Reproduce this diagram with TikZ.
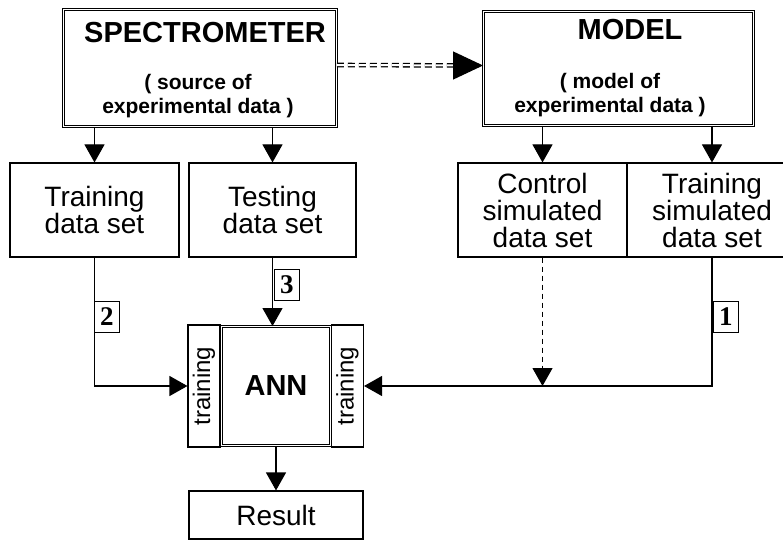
\documentclass[tikz,border=0pt]{standalone}
\usepackage{fontspec}
\setmainfont{Liberation Sans}
\newfontfamily\numfont{Liberation Serif}
\usetikzlibrary{positioning, arrows.meta}

\begin{document}
\begin{tikzpicture}[x=1pt, y=-1pt, line width=1.1pt,
      box/.style={draw, minimum width=169pt, minimum height=94pt, inner sep=0pt, align=center, font=\fontsize{28}{27}\selectfont},
      dbox/.style={draw, double, double distance=1.8pt, line width=0.9pt, inner sep=0pt},
      side/.style={draw, minimum width=32pt, minimum height=122pt, inner sep=0pt},
      numbox/.style={draw, line width=0.8pt, minimum width=25pt, minimum height=31pt, inner sep=0pt, font=\numfont\bfseries\fontsize{27}{27}\selectfont},
      ttl/.style={font=\bfseries\fontsize{29}{29}\selectfont},
      sub/.style={font=\bfseries\fontsize{21}{24}\selectfont, align=center},
      rot/.style={rotate=90, font=\fontsize{24}{24}\selectfont},
      arr/.style={-{Triangle[length=18pt, width=20pt]}}]
      \useasboundingbox (0,0) rectangle (783,540);
      % source and model
      \node[dbox, minimum width=273pt, minimum height=117pt] (spec) at (200,68) {};
      \node[ttl] (spect) at (205,33) {SPECTROMETER};
      \node[sub] (specs) at (198,96) {( source of\\experimental data )};
      \node[dbox, minimum width=270pt, minimum height=114pt] (model) at (618.5,68.5) {};
      \node[ttl] (modelt) at (630,30) {MODEL};
      \node[sub] (models) at (610,95) {( model of\\experimental data )};
      \draw[dash pattern=on 7pt off 4pt, double, double distance=2pt, line width=1.3pt, shorten >=28pt] ([yshift=3pt]spec.east) -- ([yshift=3pt]model.west);
      \draw[-{Triangle[length=30pt, width=28pt]}] ([xshift=-30pt, yshift=3pt]model.west) -- ([yshift=3pt]model.west);
      % data sets
      \node[box] (train) at (94.5,210) {Training\\data set};
      \node[box, minimum width=167pt] (test) at (272.5,210) {Testing\\data set};
      \node[box] (ctrl) at (542.5,210) {Control\\simulated\\data set};
      \node[box, minimum width=170pt] (trsim) at (712,210) {Training\\simulated\\data set};
      \draw[arr] (spec.south -| train) -- (train);
      \draw[arr] (spec.south -| test) -- (test);
      \draw[arr] (model.south -| ctrl) -- (ctrl);
      \draw[arr] (model.south -| trsim) -- (trsim);
      % network
      \node[side, label={[rot]center:training}] (lt) at (204,386) {};
      \node[dbox, minimum width=109pt, minimum height=119pt, ttl] (ann) at (276,386) {ANN};
      \node[side, label={[rot]center:training}] (rt) at (347.5,386) {};
      \node[box, minimum width=174pt, minimum height=48pt] (res) at (276,515) {Result};
      \draw[arr] (train) |- (lt);
      \draw[arr] (test) -- (test |- ann.north);
      \draw[arr] (trsim) |- (rt);
      \draw[arr, dash pattern=on 5pt off 4pt] (ctrl) -- (ctrl |- rt.east);
      \draw[arr] (ann) -- (res);
      \node[numbox, anchor=west] (n2) at (94,317) {2};
      \node[numbox, anchor=west] (n3) at (274,285) {3};
      \node[numbox, anchor=west] (n1) at (713,317) {1};
    \end{tikzpicture}
\end{document}
